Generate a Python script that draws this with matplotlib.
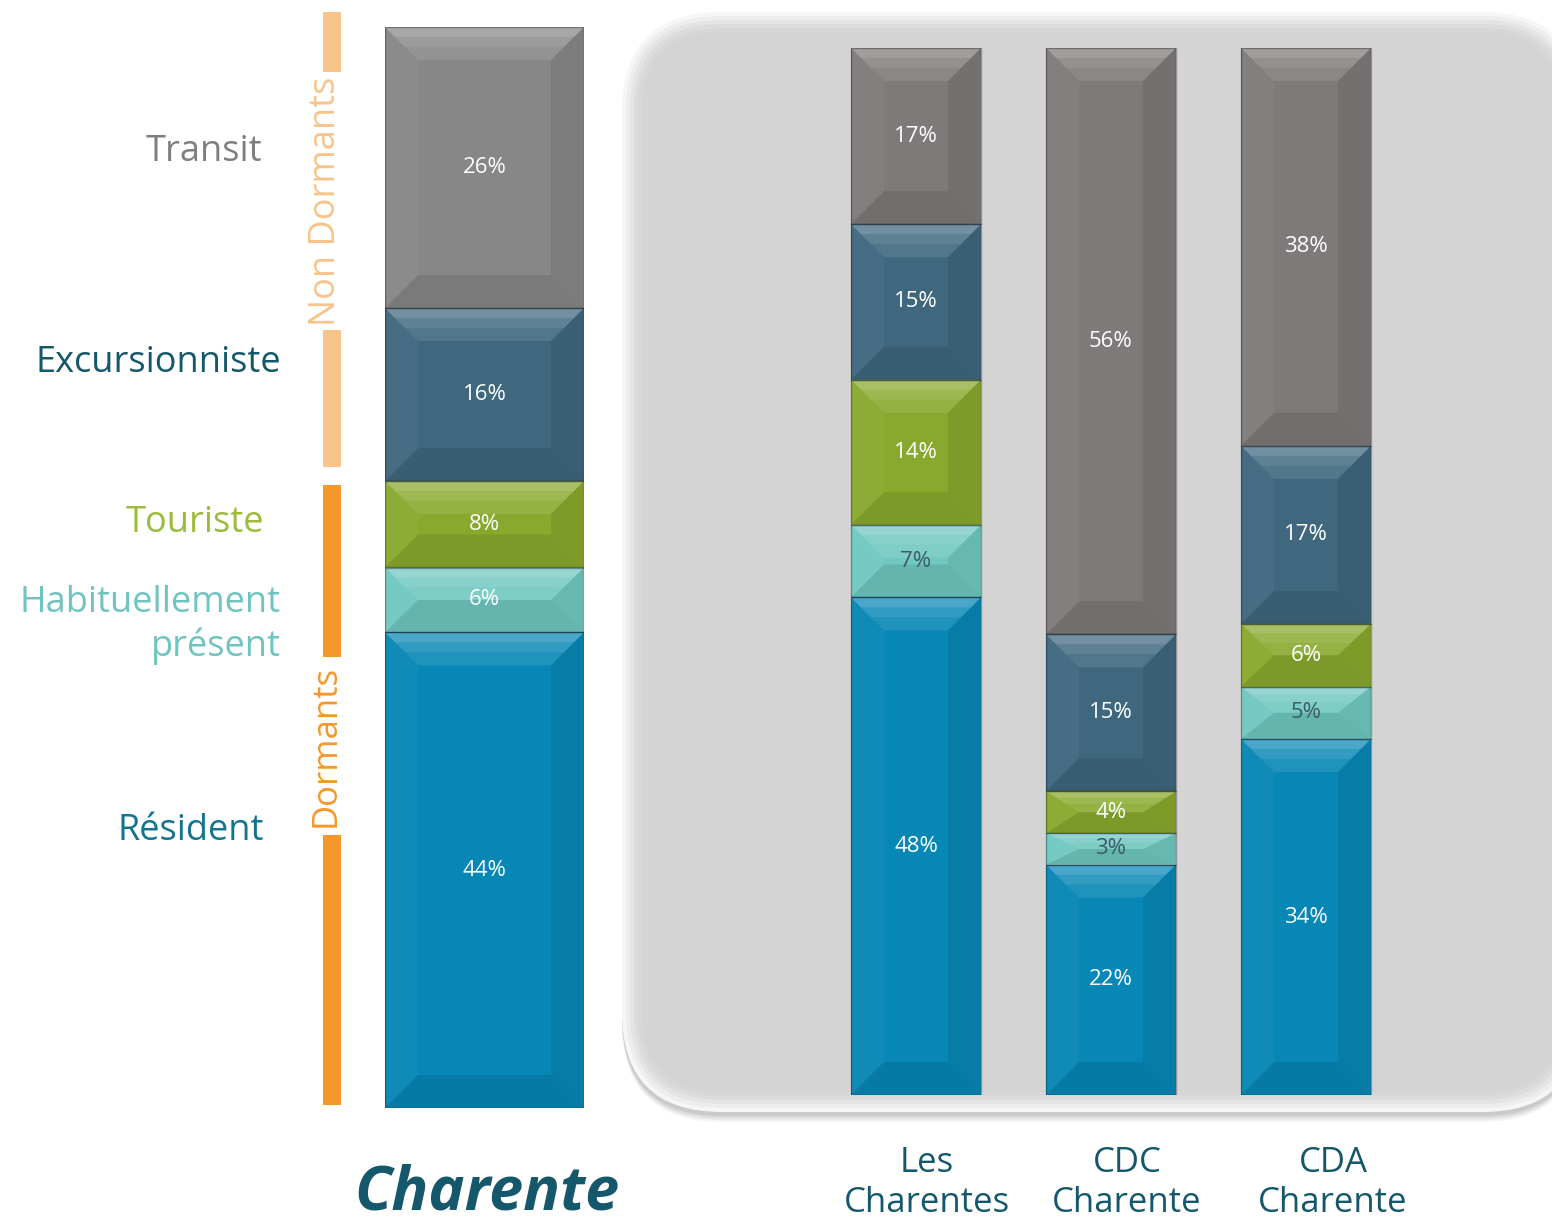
import numpy as np
import matplotlib
matplotlib.use("Agg")
import matplotlib.pyplot as plt
from matplotlib.patches import FancyBboxPatch, Rectangle, Polygon

# --- donnees ---
categories = ["Résident", "Habituellement\nprésent", "Touriste", "Excursionniste", "Transit"]
charente = [44, 6, 8, 16, 26]

zones = ["Les\nCharentes", "CDC\nCharente", "CDA\nCharente"]
resident = [48, 22, 34]
habituel = [7, 3, 5]
touriste = [14, 4, 6]
excursion = [15, 15, 17]
transit = [17, 56, 38]

face_left = ["#0787b6", "#70c8c1", "#89a92e", "#3f687e", "#878787"]
face_right = ["#0787b6", "#70c8c1", "#89a92e", "#3f687e", "#7e7a7a"]
pct_left = ["white", "white", "white", "white", "white"]
pct_right = ["white", "#3d5a66", "white", "white", "white"]
label_colors = ["#137490", "#6fc4bf", "#9bbb3c", "#15586b", "#7f7f7f"]
dark_teal = "#15586b"

plt.rcParams['font.family'] = ['Open Sans', 'DejaVu Sans']

W, H = 1552, 1223
fig = plt.figure(figsize=(W / 100, H / 100), dpi=100)


def fx(x):
    return x / W


def fy(y):
    return 1 - y / H


# fond en pixels
bg = fig.add_axes([0, 0, 1, 1])
bg.set_xlim(0, W)
bg.set_ylim(H, 0)
bg.axis('off')

# panneau gris arrondi avec ombre
for k, a in enumerate([0.04, 0.05, 0.06, 0.07]):
    off = 10 - 2 * k
    bg.add_patch(FancyBboxPatch((622, 12 + off), 960, 1100, boxstyle="round,pad=0,rounding_size=100",
                                fc="black", ec="none", alpha=a))
shades = ["#f6f6f6", "#ededed", "#e4e4e4", "#dcdcdc", "#d7d7d7", "#d4d4d4"]
for i, c in enumerate(shades):
    ins = i * 4
    bg.add_patch(FancyBboxPatch((622 + ins, 12 + ins), 960 - 2 * ins, 1100 - 2 * ins,
                                boxstyle="round,pad=0,rounding_size=%d" % (100 - ins),
                                fc=c, ec="none"))

# accolades Dormants / Non Dormants
bg.add_patch(Rectangle((323, 12), 18, 455, fc="#f8c48a", ec="none"))
bg.add_patch(Rectangle((323, 485), 18, 620, fc="#f5972c", ec="none"))
bg.text(326, 201, "Non Dormants", rotation=90, ha="center", va="center", fontsize=26,
        color="#f8c48a", bbox=dict(fc="white", ec="none", pad=3))
bg.text(326, 746, "Dormants", rotation=90, ha="center", va="center", fontsize=25,
        color="#f5972c", bbox=dict(fc="white", ec="none", pad=6))

# etiquettes des categories
label_pos = [(264, 831), (281, 625), (264, 523), (281, 363), (262, 152)]
for cat, (x, y), c in zip(categories, label_pos, label_colors):
    bg.text(x, y, cat, ha="right", va="center", fontsize=26, color=c, linespacing=1.25)

bg.text(487, 1194, "Charente", ha="center", va="center", fontsize=44, fontweight="bold",
        style="italic", color=dark_teal)
zone_pos = [927, 1127, 1333]
for z, x in zip(zones, zone_pos):
    bg.text(x, 1183, z, ha="center", va="center", fontsize=25, color=dark_teal, linespacing=1.2)


def bevel_bar(ax, x, bottoms, heights, width, faces, depth=33):
    p0 = ax.transData.transform((0, 0))
    p1 = ax.transData.transform((1, 1))
    sx, sy = p1 - p0
    x0, x1 = x - width / 2, x + width / 2
    for b, h, fc in zip(bottoms, heights, faces):
        y0, y1 = b, b + h
        dx = min(depth / sx, width / 2)
        dy = min(depth / sy, h / 2)
        ax.bar(x, h, width, bottom=b, color=fc, edgecolor="none", zorder=2)
        top = [(x0, y1), (x1, y1), (x1 - dx, y1 - dy), (x0 + dx, y1 - dy)]
        bot = [(x0, y0), (x1, y0), (x1 - dx, y0 + dy), (x0 + dx, y0 + dy)]
        lft = [(x0, y0), (x0, y1), (x0 + dx, y1 - dy), (x0 + dx, y0 + dy)]
        rgt = [(x1, y0), (x1, y1), (x1 - dx, y1 - dy), (x1 - dx, y0 + dy)]
        ax.add_patch(Polygon(top, fc="white", ec="none", alpha=0.10, zorder=3))
        for f, a in [(0.6, 0.08), (0.3, 0.12)]:
            strip = [(x0, y1), (x1, y1), (x1 - dx * f, y1 - dy * f), (x0 + dx * f, y1 - dy * f)]
            ax.add_patch(Polygon(strip, fc="white", ec="none", alpha=a, zorder=3))
        ax.add_patch(Polygon(bot, fc="black", ec="none", alpha=0.09, zorder=3))
        ax.add_patch(Polygon(lft, fc="white", ec="none", alpha=0.04, zorder=3))
        ax.add_patch(Polygon(rgt, fc="black", ec="none", alpha=0.08, zorder=3))
        ax.add_patch(Rectangle((x0, y0), width, h, fc="none", ec="#000000", lw=1.0, alpha=0.3, zorder=4))


# barre Charente
axl = fig.add_axes([fx(385), fy(1108), 199 / W, 1081 / H])
axl.set_xlim(-0.5, 0.5)
axl.set_ylim(0, 100)
axl.axis('off')
vals = np.array(charente, dtype=float)
vals_n = vals / vals.sum() * 100
bots = np.concatenate([[0], np.cumsum(vals_n)[:-1]])
bevel_bar(axl, 0, bots, vals_n, 1.0, face_left)
for b, h, v, tc in zip(bots, vals_n, vals, pct_left):
    axl.text(0, b + h / 2, "%d%%" % v, ha="center", va="center", fontsize=16, color=tc, zorder=5)

# barres comparatives
axr = fig.add_axes([fx(818.5), fy(1095), 585 / W, 1047 / H])
axr.set_xlim(-0.5, 2.5)
axr.set_ylim(0, 100)
axr.axis('off')
table = np.array([resident, habituel, touriste, excursion, transit], dtype=float)
for i in range(len(zones)):
    col = table[:, i]
    col_n = col / col.sum() * 100
    bots = np.concatenate([[0], np.cumsum(col_n)[:-1]])
    bevel_bar(axr, i, bots, col_n, 130 / 195, face_right)
    for b, h, v, tc in zip(bots, col_n, col, pct_right):
        axr.text(i, b + h / 2, "%d%%" % v, ha="center", va="center", fontsize=16, color=tc, zorder=5)

fig.savefig("out.png", dpi=100)
